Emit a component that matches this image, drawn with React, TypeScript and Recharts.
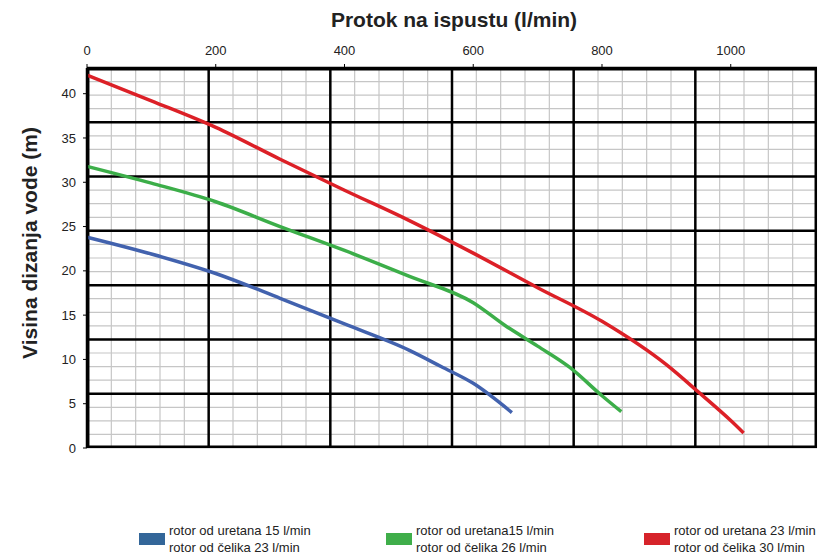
import React from 'react'
import {
  LineChart, Line, XAxis, YAxis, CartesianGrid, ReferenceLine, Legend,
} from 'recharts'

// ---- krivulje pumpe: protok (l/min) -> visina (m), očitano s dijagrama ----
const blueFlow = [0, 100, 200, 300, 400, 500, 550, 600, 660]
const blueHead = [23.8, 21.9, 19.7, 16.9, 14.0, 11.05, 9.2, 7.3, 4.0]

const greenFlow = [0, 100, 200, 300, 400, 500, 600, 650, 700, 750, 800, 830]
const greenHead = [31.8, 29.9, 27.8, 25.0, 22.3, 19.4, 16.4, 13.8, 11.5, 9.1, 5.9, 4.1]

const redFlow = [0, 100, 200, 300, 400, 500, 600, 700, 800, 900, 950, 1000, 1020]
const redHead = [42.1, 39.2, 36.2, 32.6, 29.1, 25.7, 22.0, 18.1, 14.3, 9.4, 6.3, 3.1, 1.7]

const flowTicks = [0, 200, 400, 600, 800, 1000]
const headTicks = [0, 5, 10, 15, 20, 25, 30, 35, 40]

const uretanaLabels = ['rotor od uretana 15 l/min', 'rotor od uretana15 l/min', 'rotor od uretana 23 l/min']
const celikaLabels = ['rotor od čelika 23 l/min', 'rotor od čelika 26 l/min', 'rotor od čelika 30 l/min']

// mreža papira: 30 x 28 sitnih polja, debele linije svakih 5 / 4 polja
const FLOW_MAX = 1134
const ROWS = 28
// rubne linije malo uvučene, inače ih recharts ne crta
const EDGE_FLOW = 1.9
const EDGE_ROW = 0.09
const gridCols = Array.from({ length: 29 }, (_, i) => ((i + 1) * FLOW_MAX) / 30)
const thickCols = [0, 5, 10, 15, 20, 25, 30].map((i) =>
  Math.min(Math.max((i * FLOW_MAX) / 30, EDGE_FLOW), FLOW_MAX - EDGE_FLOW))
const gridRows = Array.from({ length: ROWS + 1 }, (_, i) => i)
const thickRows = [0, 4, 8, 12, 16, 20, 24, 28].map((r) => Math.min(Math.max(r, EDGE_ROW), ROWS - EDGE_ROW))

const toPoints = (flow: number[], head: number[]) => flow.map((f, i) => ({ flow: f, head: head[i] }))

const series = [
  { key: 'plava', data: toPoints(blueFlow, blueHead), color: '#4262ae', legendColor: '#336699' },
  { key: 'zelena', data: toPoints(greenFlow, greenHead), color: '#3cae49', legendColor: '#3fae4a' },
  { key: 'crvena', data: toPoints(redFlow, redHead), color: '#dc2027', legendColor: '#d6232a' },
]

const font = "'Liberation Sans', Arial, sans-serif"
const legendLeft = [139, 386, 644]
const frameLine = { stroke: '#000', strokeWidth: 2.5 }

function CurveLegend() {
  return (
    <div style={{ position: 'relative', width: 819, height: 36, fontFamily: font, fontSize: 13, color: '#222' }}>
      {series.map((s, i) => (
        <div key={s.key} style={{ position: 'absolute', left: legendLeft[i], top: 0, display: 'flex', alignItems: 'center' }}>
          <div style={{ width: 26, height: 12, background: s.legendColor, marginRight: 4 }} />
          <div style={{ lineHeight: '17px', whiteSpace: 'nowrap' }}>
            <div>{uretanaLabels[i]}</div>
            <div>{celikaLabels[i]}</div>
          </div>
        </div>
      ))}
    </div>
  )
}

export default function App() {
  return (
    <div style={{ position: 'absolute', left: 0, top: 0, width: 819, height: 557, background: '#fff' }}>
      <LineChart width={819} height={557} margin={{ top: 0, right: 2, bottom: 109, left: 0 }}>
        {/* skrivena os redaka mreže (id 0) */}
        <YAxis type="number" domain={[0, ROWS]} ticks={gridRows} interval={0} allowDataOverflow width={0} hide />
        {/* donji i desni rub okvira */}
        <XAxis
          xAxisId="frameB"
          orientation="bottom"
          type="number"
          domain={[0, FLOW_MAX]}
          allowDataOverflow
          height={0}
          tick={false}
          tickLine={false}
          axisLine={frameLine}
        />
        <YAxis
          yAxisId="frameR"
          orientation="right"
          type="number"
          domain={[0, ROWS]}
          allowDataOverflow
          width={0}
          tick={false}
          tickLine={false}
          axisLine={frameLine}
        />
        <XAxis
          xAxisId="flow"
          orientation="top"
          type="number"
          dataKey="flow"
          domain={[0, FLOW_MAX]}
          ticks={flowTicks}
          interval={0}
          height={68}
          axisLine={frameLine}
          tickLine={{ stroke: '#000' }}
          tickSize={4}
          tickMargin={9}
          tick={{ fontSize: 13, fill: '#222', fontFamily: font }}
          label={{
            content: () => (
              <text x={454} y={27} textAnchor="middle" fontFamily={font} fontWeight="bold" fontSize={21} fill="#222">
                Protok na ispustu (l/min)
              </text>
            ),
          }}
        />
        <YAxis
          yAxisId="head"
          type="number"
          domain={[0, 42.9]}
          ticks={headTicks}
          interval={0}
          width={87}
          axisLine={frameLine}
          tickLine={{ stroke: '#000' }}
          tickSize={4}
          tickMargin={7}
          tick={{ fontSize: 13, fill: '#222', fontFamily: font }}
          label={{
            content: () => (
              <text
                x={37}
                y={243}
                transform="rotate(-90 37 243)"
                textAnchor="middle"
                fontFamily={font}
                fontWeight="bold"
                fontSize={21}
                fill="#222"
              >
                Visina dizanja vode (m)
              </text>
            ),
          }}
        />
        <CartesianGrid vertical={false} stroke="#c6c6c6" strokeWidth={1.2} />
        {gridCols.map((c, i) => (
          <ReferenceLine key={'g' + i} xAxisId="flow" yAxisId="head" x={c} stroke="#c6c6c6" strokeWidth={1.2} ifOverflow="visible" />
        ))}
        {thickCols.map((c, i) => (
          <ReferenceLine key={'c' + i} xAxisId="flow" yAxisId="head" x={c} stroke="#000" strokeWidth={2.5} ifOverflow="visible" />
        ))}
        {thickRows.map((r, i) => (
          <ReferenceLine key={'r' + i} xAxisId="flow" yAxisId={0} y={r} stroke="#000" strokeWidth={2.5} ifOverflow="visible" />
        ))}
        {series.map((s) => (
          <Line
            key={s.key}
            xAxisId="flow"
            yAxisId="head"
            data={s.data}
            dataKey="head"
            type="monotone"
            stroke={s.color}
            strokeWidth={3.5}
            dot={false}
            activeDot={false}
            isAnimationActive={false}
          />
        ))}
        <Legend verticalAlign="middle" wrapperStyle={{ top: 522, left: 0, width: 819 }} content={() => <CurveLegend />} />
      </LineChart>
    </div>
  )
}
